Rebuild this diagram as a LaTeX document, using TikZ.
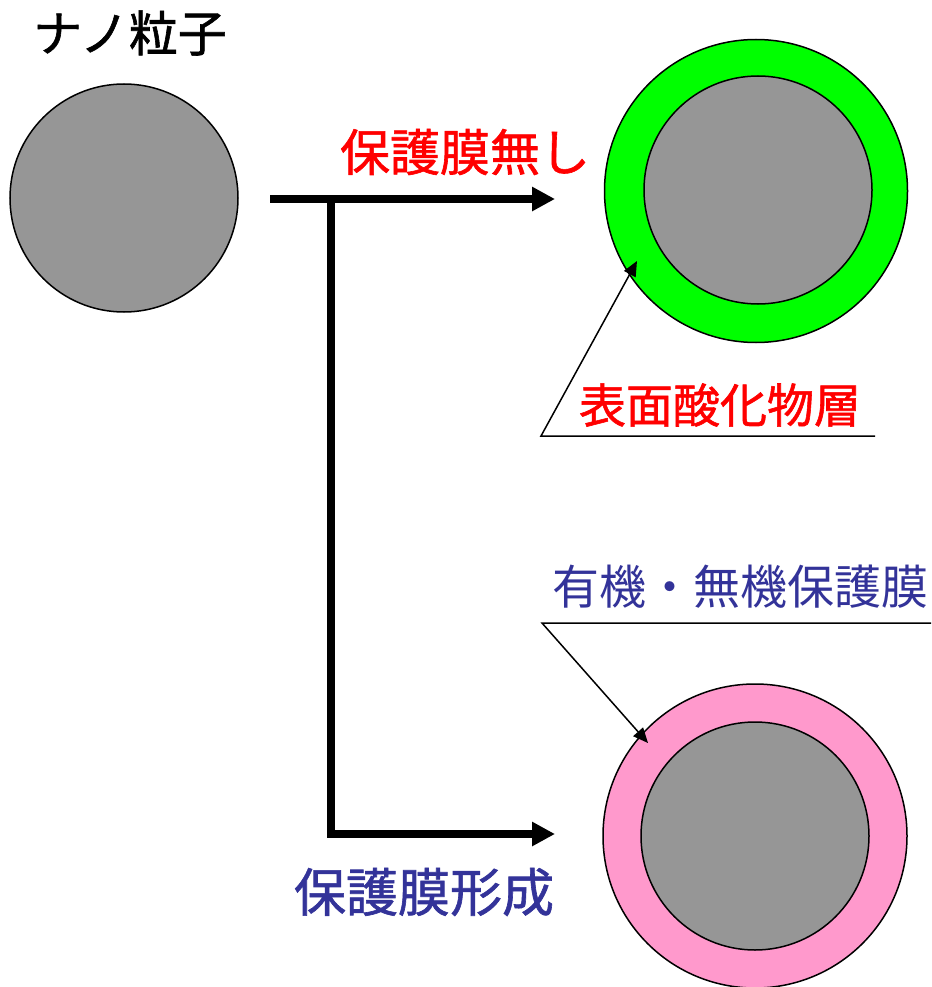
\documentclass[tikz,border=0pt]{standalone}
\usepackage{fontspec}
\setmainfont{Noto Sans CJK JP}
\newfontfamily\cjkbold{Noto Sans CJK JP}[FakeBold=1.2]
\usetikzlibrary{arrows.meta}
\definecolor{cgray}{HTML}{969696}
\definecolor{cgreen}{HTML}{00FF00}
\definecolor{cpink}{HTML}{FF99CC}
\definecolor{cblue}{HTML}{333399}
\definecolor{cred}{HTML}{FF0000}
\begin{document}
\begin{tikzpicture}[x=1pt,y=-1pt,
  ball/.style={circle,draw=black,line width=1.5pt,inner sep=0pt},
  core/.style={ball,fill=cgray,minimum size=228pt},
  flow/.style={line width=8pt,-{Triangle[length=23pt,width=23pt]}},
  callout/.style={line width=1.5pt,-{Triangle[length=15pt,width=13pt]}},
  lbl/.style={inner sep=0pt,font=\cjkbold\fontsize{47}{50}\selectfont}]
\useasboundingbox (0,0) rectangle (931,987);
% particles
\node[core] (np) at (124,198) {};
\node[ball,fill=cgreen,minimum size=303pt] (ox) at (756,191) {};
\node[core] (oxc) at (758,190) {};
\node[ball,fill=cpink,minimum size=304pt] (pf) at (755,836) {};
\node[core] (pfc) at (755,836) {};
% labels
\node[lbl,font=\cjkbold\fontsize{49}{52}\selectfont] (tnp) at (130,33) {ナノ粒子};
\node[lbl,text=cred,font=\cjkbold\fontsize{50}{52}\selectfont] (tno) at (465,152) {保護膜無し};
\node[lbl,text=cred] (tox) at (720,405) {表面酸化物層};
\node[lbl,text=cblue,font=\fontsize{47}{50}\selectfont] (tpf) at (740,587) {有機・無機保護膜};
\node[lbl,text=cblue,font=\cjkbold\fontsize{52}{54}\selectfont] (tform) at (424,892) {保護膜形成};
% flow arrows
\coordinate (s) at (270,199);
\coordinate (j) at (331,199);
\coordinate (t1) at (555,199);
\coordinate (c) at (331,834);
\coordinate (t2) at (555,834);
\draw[flow] (s) -- (t1);
\draw[flow,line join=miter] (j) -- (c) -- (t2);
% callouts
\coordinate (oxa) at (875,436);
\coordinate (oxb) at (541,436);
\coordinate (oxt) at (637,261);
\draw[callout] (oxa) -- (oxb) -- (oxt);
\coordinate (pfa) at (931,623);
\coordinate (pfb) at (542,623);
\coordinate (pft) at (648,743);
\draw[callout] (pfa) -- (pfb) -- (pft);
\end{tikzpicture}
\end{document}
